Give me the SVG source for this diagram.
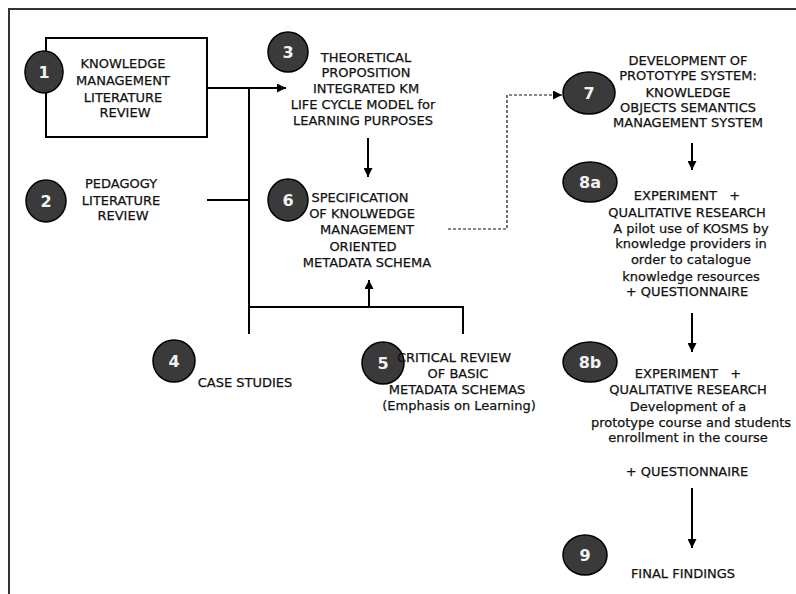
<svg xmlns="http://www.w3.org/2000/svg" width="796" height="594" viewBox="0 0 796 594">
<defs>
<marker id="ah" viewBox="0 0 10 10" refX="10" refY="5" markerWidth="9" markerHeight="9" markerUnits="userSpaceOnUse" orient="auto"><path d="M0,0 L10,5 L0,10 z" fill="#000"/></marker>
<style>
.t{font-family:"DejaVu Sans","Liberation Sans",sans-serif;font-size:13px;fill:#111;stroke:#111;stroke-width:0.25;text-anchor:middle}
.n{font-family:"DejaVu Sans","Liberation Sans",sans-serif;font-size:16px;font-weight:bold;fill:#f2f2f2;text-anchor:middle}
.c{fill:#3a3a3a;stroke:#000;stroke-width:1.5}
.l{fill:none;stroke:#000;stroke-width:2}
.d{fill:none;stroke:#111;stroke-width:1.2;stroke-dasharray:3,2}
</style>
</defs>
<rect width="796" height="594" fill="#fff"/>
<path d="M9,594 V9 H796" fill="none" stroke="#333" stroke-width="2"/>
<g id="connectors">
<path class="l" d="M207,88 H286" marker-end="url(#ah)"/>
<path class="l" d="M249,88 V334"/>
<path class="l" d="M207,200 H249"/>
<path class="l" d="M249,307 H463 V334"/>
<path class="l" d="M369,307 V280" marker-end="url(#ah)"/>
<path class="l" d="M368,138 V177" marker-end="url(#ah)"/>
<path class="d" d="M448,229 H507 V95 H562" marker-end="url(#ah)"/>
<path class="l" d="M692,143 V170" marker-end="url(#ah)"/>
<path class="l" d="M692,313 V352" marker-end="url(#ah)"/>
<path class="l" d="M692,488 V548" marker-end="url(#ah)"/>
</g>
<g id="node1">
<rect x="46" y="38" width="161" height="99" fill="#fff" stroke="#000" stroke-width="2"/>
<ellipse class="c" cx="44" cy="72" rx="19" ry="21"/>
<text class="n" x="44" y="78">1</text>
<text class="t" x="123" y="68">KNOWLEDGE</text>
<text class="t" x="123" y="85">MANAGEMENT</text>
<text class="t" x="123" y="102">LITERATURE</text>
<text class="t" x="125" y="117">REVIEW</text>
</g>
<g id="node2">
<ellipse class="c" cx="46" cy="201" rx="20" ry="21"/>
<text class="n" x="46" y="207">2</text>
<text class="t" x="121" y="188">PEDAGOGY</text>
<text class="t" x="121" y="205">LITERATURE</text>
<text class="t" x="123" y="220">REVIEW</text>
</g>
<g id="node3">
<ellipse class="c" cx="288" cy="52" rx="20" ry="20"/>
<text class="n" x="288" y="58">3</text>
<text class="t" x="366" y="62">THEORETICAL</text>
<text class="t" x="366" y="77">PROPOSITION</text>
<text class="t" x="366" y="93">INTEGRATED KM</text>
<text class="t" x="363" y="109">LIFE CYCLE MODEL for</text>
<text class="t" x="363" y="125">LEARNING PURPOSES</text>
</g>
<g id="node6">
<ellipse class="c" cx="288" cy="200" rx="20" ry="21"/>
<text class="n" x="288" y="206">6</text>
<text class="t" x="360" y="202">SPECIFICATION</text>
<text class="t" x="362" y="218">OF KNOLWEDGE</text>
<text class="t" x="367" y="234">MANAGEMENT</text>
<text class="t" x="363" y="251">ORIENTED</text>
<text class="t" x="367" y="267">METADATA SCHEMA</text>
</g>
<g id="node4">
<ellipse class="c" cx="174" cy="361" rx="21" ry="21"/>
<text class="n" x="174" y="367">4</text>
<text class="t" x="245" y="387">CASE STUDIES</text>
</g>
<g id="node5">
<ellipse class="c" cx="383" cy="363" rx="21" ry="21"/>
<text class="n" x="383" y="369">5</text>
<text class="t" x="454" y="362">CRITICAL REVIEW</text>
<text class="t" x="458" y="378">OF BASIC</text>
<text class="t" x="457" y="394">METADATA SCHEMAS</text>
<text class="t" x="459" y="410">(Emphasis on Learning)</text>
</g>
<g id="node7">
<ellipse class="c" cx="589" cy="93" rx="26" ry="21"/>
<text class="n" x="589" y="99">7</text>
<text class="t" x="688" y="65">DEVELOPMENT OF</text>
<text class="t" x="688" y="80">PROTOTYPE SYSTEM:</text>
<text class="t" x="688" y="97">KNOWLEDGE</text>
<text class="t" x="688" y="112">OBJECTS SEMANTICS</text>
<text class="t" x="688" y="127">MANAGEMENT SYSTEM</text>
</g>
<g id="node8a">
<ellipse class="c" cx="590" cy="182" rx="27" ry="20"/>
<text class="n" x="590" y="188">8a</text>
<text class="t" x="687" y="200" xml:space="preserve">EXPERIMENT   +</text>
<text class="t" x="687" y="217">QUALITATIVE RESEARCH</text>
<text class="t" x="691" y="233">A pilot use of KOSMS by</text>
<text class="t" x="691" y="248">knowledge providers in</text>
<text class="t" x="691" y="264">order to catalogue</text>
<text class="t" x="691" y="281">knowledge resources</text>
<text class="t" x="687" y="296">+ QUESTIONNAIRE</text>
</g>
<g id="node8b">
<ellipse class="c" cx="590" cy="362" rx="27" ry="20"/>
<text class="n" x="590" y="368">8b</text>
<text class="t" x="688" y="378" xml:space="preserve">EXPERIMENT   +</text>
<text class="t" x="688" y="394">QUALITATIVE RESEARCH</text>
<text class="t" x="688" y="411">Development of a</text>
<text class="t" x="691" y="427">prototype course and students</text>
<text class="t" x="688" y="442">enrollment in the course</text>
<text class="t" x="687" y="476">+ QUESTIONNAIRE</text>
</g>
<g id="node9">
<ellipse class="c" cx="585" cy="555" rx="22" ry="20"/>
<text class="n" x="585" y="561">9</text>
<text class="t" x="683" y="578">FINAL FINDINGS</text>
</g>
</svg>
